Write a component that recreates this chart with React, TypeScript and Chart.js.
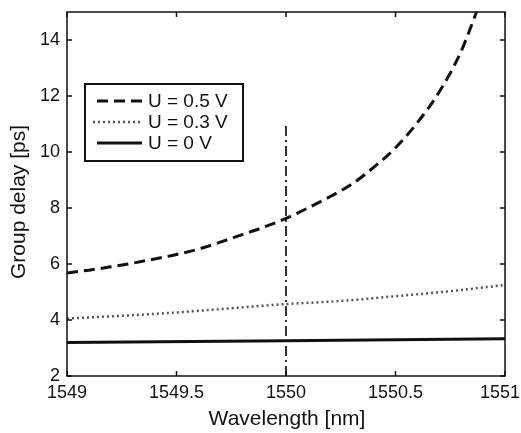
import React, { useEffect, useRef } from "react";
import { Chart, registerables } from "chart.js";

Chart.register(...registerables);

const wl05 = [1549, 1549.1, 1549.2, 1549.3, 1549.4, 1549.5, 1549.6, 1549.7, 1549.8, 1549.9, 1550, 1550.1, 1550.2, 1550.3, 1550.4, 1550.5, 1550.6, 1550.7, 1550.8, 1550.87];
const gd05 = [5.68, 5.78, 5.9, 6.03, 6.18, 6.34, 6.53, 6.78, 7.05, 7.32, 7.63, 8.0, 8.4, 8.85, 9.45, 10.15, 11.05, 12.15, 13.6, 15.0];
const wl03 = [1549, 1549.25, 1549.5, 1549.75, 1550, 1550.25, 1550.5, 1550.75, 1551];
const gd03 = [4.05, 4.15, 4.27, 4.42, 4.57, 4.68, 4.85, 5.03, 5.25];
const wl00 = [1549, 1550, 1551];
const gd00 = [3.2, 3.26, 3.33];
const markerX = [1550, 1550];
const markerY = [2, 10.95];
const xTicks = [1549, 1549.5, 1550, 1550.5, 1551];
const yTicks = [2, 4, 6, 8, 10, 12, 14];
const legendLabels = ["U = 0.5 V", "U = 0.3 V", "U = 0 V"];

const FONT = "'Liberation Sans', Arial, Helvetica, sans-serif";

const toXY = (xs: number[], ys: number[]) => xs.map((x, i) => ({ x, y: ys[i] }));

export default function App() {
  const ref = useRef<HTMLCanvasElement | null>(null);

  useEffect(() => {
    document.body.style.margin = "0";
    const canvas = ref.current;
    if (!canvas) return;

    const styles = [
      { color: "#111", width: 3, dash: [11, 6] },
      { color: "#555", width: 2.5, dash: [2, 3] },
      { color: "#111", width: 3, dash: [] as number[] },
    ];

    const framePlugin = {
      id: "frame",
      afterDraw(chart: any) {
        const { ctx, chartArea: a, scales } = chart;
        const xs = scales.x;
        const ys = scales.y;
        ctx.save();
        ctx.strokeStyle = "#111";
        ctx.lineWidth = 1.5;
        ctx.setLineDash([]);
        ctx.strokeRect(a.left, a.top, a.right - a.left, a.bottom - a.top);
        const tl = 5;
        ctx.beginPath();
        xTicks.forEach((v) => {
          const px = xs.getPixelForValue(v);
          ctx.moveTo(px, a.bottom);
          ctx.lineTo(px, a.bottom - tl);
          ctx.moveTo(px, a.top);
          ctx.lineTo(px, a.top + tl);
        });
        yTicks.forEach((v) => {
          const py = ys.getPixelForValue(v);
          ctx.moveTo(a.left, py);
          ctx.lineTo(a.left + tl, py);
          ctx.moveTo(a.right, py);
          ctx.lineTo(a.right - tl, py);
        });
        ctx.stroke();

        // x tick labels
        ctx.fillStyle = "#111";
        ctx.font = `18px ${FONT}`;
        ctx.textAlign = "center";
        ctx.textBaseline = "alphabetic";
        xTicks.forEach((v) => {
          const t = String(v);
          const w = ctx.measureText(t).width;
          let cx = xs.getPixelForValue(v);
          if (cx + w / 2 > 520) cx = 520 - w / 2;
          ctx.fillText(t, cx, 398);
        });

        // axis titles
        ctx.font = `21px ${FONT}`;
        ctx.fillText("Wavelength [nm]", 287, 425);
        ctx.save();
        ctx.translate(25, 202);
        ctx.rotate(-Math.PI / 2);
        ctx.fillText("Group delay [ps]", 0, 0);
        ctx.restore();

        // legend
        const bx = 85, by = 84, bw = 158, bh = 77;
        ctx.fillStyle = "#fff";
        ctx.fillRect(bx, by, bw, bh);
        ctx.lineWidth = 2;
        ctx.strokeStyle = "#111";
        ctx.strokeRect(bx, by, bw, bh);
        const rows = [101, 122, 143];
        legendLabels.forEach((lab, i) => {
          const s = styles[i];
          ctx.beginPath();
          ctx.strokeStyle = s.color;
          ctx.lineWidth = s.width;
          ctx.setLineDash(s.dash);
          ctx.moveTo(i === 1 ? 93 : 97, rows[i]);
          ctx.lineTo(142, rows[i]);
          ctx.stroke();
          ctx.setLineDash([]);
          ctx.fillStyle = "#111";
          ctx.textAlign = "left";
          ctx.textBaseline = "middle";
          ctx.font = `19px ${FONT}`;
          ctx.fillText(lab, 148, rows[i] + 1);
        });
        ctx.restore();
      },
    };

    const chart = new Chart(canvas, {
      type: "line",
      data: {
        datasets: [
          {
            label: legendLabels[0],
            data: toXY(wl05, gd05),
            borderColor: styles[0].color,
            borderWidth: styles[0].width,
            borderDash: styles[0].dash,
            pointRadius: 0,
            cubicInterpolationMode: "monotone",
          },
          {
            label: legendLabels[1],
            data: toXY(wl03, gd03),
            borderColor: styles[1].color,
            borderWidth: styles[1].width,
            borderDash: styles[1].dash,
            pointRadius: 0,
            cubicInterpolationMode: "monotone",
          },
          {
            label: legendLabels[2],
            data: toXY(wl00, gd00),
            borderColor: styles[2].color,
            borderWidth: styles[2].width,
            pointRadius: 0,
          },
          {
            label: "marker",
            data: toXY(markerX, markerY),
            borderColor: "#333",
            borderWidth: 2,
            borderDash: [10, 4, 2, 4],
            pointRadius: 0,
          },
        ],
      },
      options: {
        responsive: false,
        animation: false,
        layout: { padding: { top: 12, right: 16, left: 0, bottom: 0 } },
        plugins: { legend: { display: false }, tooltip: { enabled: false } },
        scales: {
          x: {
            type: "linear",
            min: 1549,
            max: 1551,
            grid: { display: false, drawTicks: false },
            border: { display: false },
            afterBuildTicks: (s: any) => {
              s.ticks = xTicks.map((v) => ({ value: v }));
            },
            afterFit: (s: any) => {
              s.height = 57;
              s.paddingLeft = 0;
              s.paddingRight = 0;
            },
            ticks: { display: false },
          },
          y: {
            type: "linear",
            min: 2,
            max: 15,
            grid: { display: false, drawTicks: false },
            border: { display: false },
            afterBuildTicks: (s: any) => {
              s.ticks = yTicks.map((v) => ({ value: v }));
            },
            afterFit: (s: any) => {
              s.width = 67;
              s.paddingTop = 0;
              s.paddingBottom = 0;
            },
            ticks: {
              color: "#111",
              font: { family: FONT, size: 18 },
              padding: 7,
              autoSkip: false,
              callback: (v: any) => String(v),
            },
          },
        },
      },
      plugins: [framePlugin],
    } as any);

    return () => chart.destroy();
  }, []);

  return (
    <div style={{ width: 521, height: 433, background: "#fff" }}>
      <canvas ref={ref} width={521} height={433} style={{ display: "block" }} />
    </div>
  );
}
